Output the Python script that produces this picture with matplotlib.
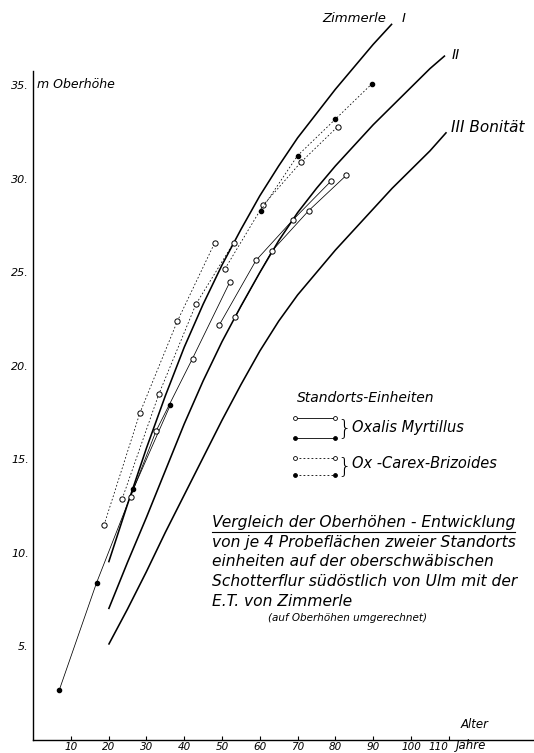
import matplotlib
matplotlib.use("Agg")
import matplotlib.pyplot as plt
from matplotlib.lines import Line2D

# Zimmerle yield-table top-height curves (age in years, top height in m)
zim_I_age = [20, 25, 30, 35, 40, 45, 50, 55, 60, 65, 70, 75, 80, 85, 90, 95]
zim_I_h = [9.5, 12.6, 15.6, 18.4, 21.0, 23.3, 25.4, 27.3, 29.1, 30.7, 32.2, 33.5, 34.8, 36.0, 37.2, 38.3]
zim_II_age = [20, 25, 30, 35, 40, 45, 50, 55, 60, 65, 70, 75, 80, 85, 90, 95, 100, 105, 109]
zim_II_h = [7.0, 9.5, 11.9, 14.4, 16.9, 19.2, 21.3, 23.2, 25.0, 26.7, 28.2, 29.5, 30.7, 31.8, 32.9, 33.9, 34.9, 35.9, 36.6]
zim_III_age = [20, 25, 30, 35, 40, 45, 50, 55, 60, 65, 70, 75, 80, 85, 90, 95, 100, 105, 109.4]
zim_III_h = [5.1, 7.0, 9.0, 11.1, 13.1, 15.1, 17.1, 19.0, 20.8, 22.4, 23.8, 25.0, 26.2, 27.3, 28.4, 29.5, 30.5, 31.5, 32.5]

# Oxalis-Myrtillus sample plots
om_filled_age = [7.0, 16.8, 26.5, 36.3]
om_filled_h = [2.7, 8.4, 13.4, 17.9]
om_open_a_age = [25.8, 32.5, 42.2, 52.1]
om_open_a_h = [13.0, 16.5, 20.4, 24.5]
om_open_b_age = [49.3, 59.0, 68.7, 78.9]
om_open_b_h = [22.2, 25.65, 27.8, 29.9]
om_open_c_age = [53.4, 63.2, 72.9, 82.9]
om_open_c_h = [22.6, 26.15, 28.3, 30.2]

# Oxalis-Carex-Brizoides sample plots
cb_open_a_age = [18.8, 28.3, 38.2, 48.1]
cb_open_a_h = [11.5, 17.5, 22.4, 26.6]
cb_open_b_age = [23.6, 33.3, 43.1, 53.1]
cb_open_b_h = [12.9, 18.5, 23.3, 26.6]
cb_open_c_age = [50.8, 60.9, 70.9, 80.6]
cb_open_c_h = [25.2, 28.6, 30.9, 32.8]
cb_filled_age = [60.2, 70.0, 80.0, 89.7]
cb_filled_h = [28.3, 31.25, 33.2, 35.1]

x_ticks = [10, 20, 30, 40, 50, 60, 70, 80, 90, 100, 110]
y_ticks = [5, 10, 15, 20, 25, 30, 35]

W, H = 534, 753
plt.rcParams["font.family"] = ["DejaVu Sans"]
plt.rcParams["font.style"] = "italic"

fig = plt.figure(figsize=(W / 100, H / 100), dpi=100)
ax = fig.add_axes([33 / W, 13 / H, (W - 33) / W, 740 / H])
ax.set_xlim(0, (W - 33) / 3.78)
ax.set_ylim(0, 740 / 18.7)


def fp(px, py):
    return px / W, 1 - py / H


# yield-table curves
for a, h in [(zim_I_age, zim_I_h), (zim_II_age, zim_II_h), (zim_III_age, zim_III_h)]:
    ax.plot(a, h, color="black", lw=1.15, solid_capstyle="butt", clip_on=False)

open_kw = dict(marker="o", ms=3.8, mfc="white", mec="black", mew=0.7, color="black", lw=0.55)
fill_kw = dict(marker="o", ms=3.0, mfc="black", mec="black", color="black", lw=0.55)
dash = (0, (2.2, 2.6))

ax.plot(om_filled_age, om_filled_h, **fill_kw)
for a, h in [(om_open_a_age, om_open_a_h), (om_open_b_age, om_open_b_h), (om_open_c_age, om_open_c_h)]:
    ax.plot(a, h, **open_kw)
for a, h in [(cb_open_a_age, cb_open_a_h), (cb_open_b_age, cb_open_b_h), (cb_open_c_age, cb_open_c_h)]:
    ax.plot(a, h, ls=dash, **open_kw)
ax.plot(cb_filled_age, cb_filled_h, ls=dash, **fill_kw)

# axes
for s in ["top", "right"]:
    ax.spines[s].set_visible(False)
ax.spines["left"].set_bounds(0, 35.8)
ax.spines["left"].set_linewidth(1.0)
ax.spines["bottom"].set_linewidth(1.0)
ax.set_xticks(x_ticks)
ax.set_xticklabels([str(v) for v in x_ticks])
ax.set_yticks(y_ticks)
ax.set_yticklabels([f"{v}." for v in y_ticks])
ax.tick_params(axis="x", direction="in", length=3, width=0.8, pad=1.5, labelsize=7.5)
ax.tick_params(axis="y", direction="out", length=0, width=0.8, pad=3, labelsize=8)
ax.get_xticklabels()[-1].set_horizontalalignment("right")

tk = dict(color="black", style="italic")
fig.text(*fp(456, 746), "Jahre", ha="left", va="center", fontsize=8.5, **tk)
fig.text(*fp(461, 724), "Alter", ha="left", va="center", fontsize=8.5, **tk)
fig.text(*fp(37, 85), "m Oberhöhe", ha="left", va="center", fontsize=9, **tk)
fig.text(*fp(322, 18), "Zimmerle", ha="left", va="center", fontsize=9.5, **tk)
fig.text(*fp(402, 18), "I", ha="left", va="center", fontsize=9.5, **tk)
fig.text(*fp(452, 55), "II", ha="left", va="center", fontsize=10, **tk)
fig.text(*fp(451, 128), "III Bonität", ha="left", va="center", fontsize=11, **tk)

# legend
fig.text(*fp(297, 398), "Standorts-Einheiten", ha="left", va="center", fontsize=10, **tk)
leg_rows = [(418, "-", "white"), (438, "-", "black"), (458, dash, "white"), (475, dash, "black")]
for py, ls, fc in leg_rows:
    y = 1 - py / H
    fig.add_artist(Line2D([295 / W, 335 / W], [y, y], color="black", lw=0.6, ls=ls,
                          marker="o", ms=2.8, mfc=fc, mec="black", mew=0.6))
fig.text(*fp(337, 428), "}", ha="left", va="center", fontsize=16, style="normal",
         fontweight="light", color="black")
fig.text(*fp(337, 466), "}", ha="left", va="center", fontsize=16, style="normal",
         fontweight="light", color="black")
fig.text(*fp(352, 427), "Oxalis Myrtillus", ha="left", va="center", fontsize=10.5, **tk)
fig.text(*fp(352, 463), "Ox -Carex-Brizoides", ha="left", va="center", fontsize=10.5, **tk)

# caption
cap = [
    (523, "Vergleich der Oberhöhen - Entwicklung"),
    (543, "von je 4 Probeflächen zweier Standorts"),
    (562, "einheiten auf der oberschwäbischen"),
    (582, "Schotterflur südöstlich von Ulm mit der"),
    (601, "E.T. von Zimmerle"),
]
first = None
for py, s in cap:
    t = fig.text(*fp(212, py), s, ha="left", va="center", fontsize=11.2, **tk)
    if first is None:
        first = t
fig.text(*fp(268, 618), "(auf Oberhöhen umgerechnet)", ha="left", va="center", fontsize=7.5, **tk)

fig.canvas.draw()
bb = first.get_window_extent()
uy = (bb.y0 - 1) / H
fig.add_artist(Line2D([bb.x0 / W, bb.x1 / W], [uy, uy], color="black", lw=0.8))

fig.savefig("out.png", dpi=100)
